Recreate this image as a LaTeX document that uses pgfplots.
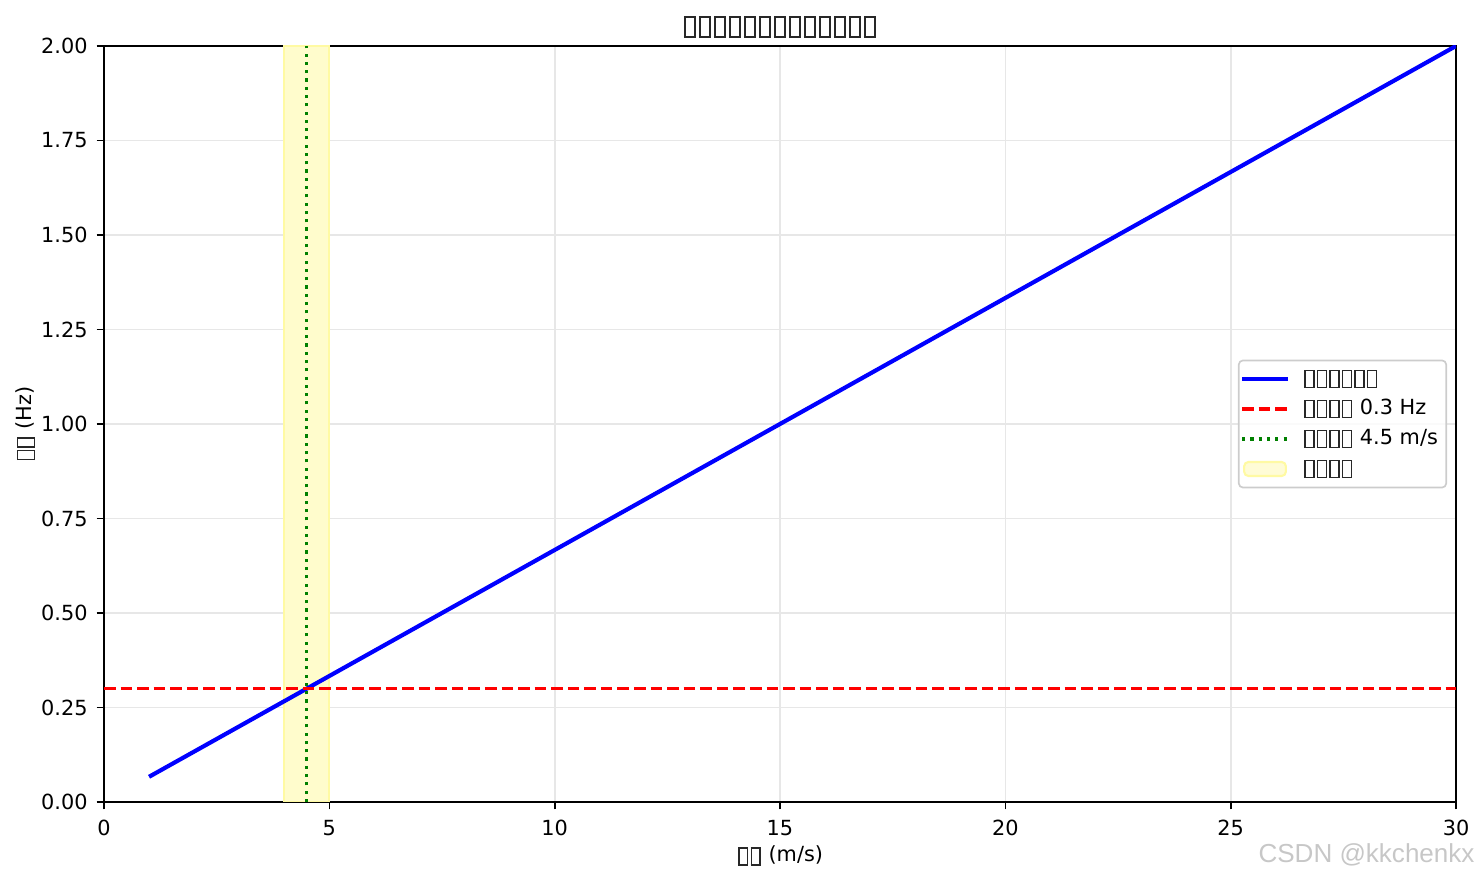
\documentclass[border=0pt]{standalone}
\usepackage{fontspec}
\setmainfont{DejaVu Sans}
\newfontfamily\wmfont{Liberation Sans}
\usepackage{pgfplots}
\pgfplotsset{compat=1.18}
\definecolor{mplgreen}{RGB}{0,128,0}
\definecolor{gridc}{RGB}{231,231,231}
\definecolor{legedge}{RGB}{204,204,204}
\definecolor{tofuc}{RGB}{40,40,40}
\newcommand\tofu{\kern0.05em\raisebox{-0.1em}{\color{tofuc}\fboxsep=0pt\fboxrule=0.075em\fbox{\rule{0pt}{0.73em}\rule{0.35em}{0pt}}}\kern0.05em}
\pgfplotsset{
  linelegend/.style={legend image code/.code={%
    \begin{pgfinterruptboundingbox}\draw[##1] (-2.4pt,0pt) -- (19.6pt,0pt);\end{pgfinterruptboundingbox}%
    \path[draw=none, fill=none] (0pt,-1pt) rectangle (19.6pt,1pt);}},
  arealegend/.style={legend image code/.code={%
    \begin{pgfinterruptboundingbox}\draw[##1] (-1.4pt,-3.35pt) rectangle (18.6pt,3.35pt);\end{pgfinterruptboundingbox}%
    \path[draw=none, fill=none] (0pt,-1pt) rectangle (19.6pt,1pt);}},
}
\begin{document}
\begin{tikzpicture}
\begin{axis}[
  name=ax, scale only axis, width=648.96pt, height=362.88pt,
  xmin=0, xmax=30, ymin=0, ymax=2,
  xtick={0,5,...,30}, ytick={0,0.25,...,2},
  yticklabel style={/pgf/number format/fixed, /pgf/number format/fixed zerofill, /pgf/number format/precision=2},
  /pgf/number format/assume math mode=true,
  tick align=outside, major tick length=3.5pt,
  xtick pos=lower, ytick pos=left,
  tick style={black, line width=0.8pt},
  axis line style={line width=0.8pt},
  grid=major, major grid style={color=gridc, line width=0.8pt},
  ticklabel style={font=\fontsize{10}{12}\selectfont},
  xticklabel style={inner sep=0pt, anchor=north, yshift=-5.1pt},
  yticklabel style={inner sep=0pt, anchor=east, xshift=-4.2pt},
  title={\tofu\tofu\tofu\tofu\tofu\tofu\tofu\tofu\tofu\tofu\tofu\tofu\tofu},
  title style={font=\fontsize{12}{14}\selectfont, at={(axis description cs:0.5,1)}, anchor=base, yshift=-0.2pt, inner sep=0pt},
  xlabel={\tofu\tofu{} (m/s)},
  ylabel={\tofu\tofu{} (Hz)},
  xlabel style={font=\fontsize{10}{12}\selectfont, at={([yshift=-28.8pt]axis description cs:0.5,0)}, anchor=base, inner sep=0pt},
  ylabel style={font=\fontsize{10}{12}\selectfont, at={([xshift=-34.8pt]axis description cs:0,0.5)}, anchor=base, inner sep=0pt},
  legend style={at={(axis description cs:0.9934,0.5)}, anchor=east,
    draw=legedge, line width=0.8pt, rounded corners=2pt, fill=white, fill opacity=0.8, text opacity=1,
    font=\fontsize{10}{12}\selectfont, inner sep=4pt,
    nodes={inner sep=0pt, text height=7.6pt, text depth=2.2pt},
    row sep=4.6pt, column sep=7.4pt},
  legend cell align=left,
]
\addplot[draw=yellow!36, fill=yellow!20, line width=1pt, forget plot] coordinates {(4,0) (4,2) (5,2) (5,0)} -- cycle;
\addplot[blue, line width=2pt, linelegend] coordinates {(1,0.06667) (30,2)};
\addlegendentry{\tofu\tofu\tofu\tofu\tofu\tofu}
\addplot[red, line width=1.5pt, dash pattern=on 5.55pt off 2.4pt, linelegend] coordinates {(0,0.3) (30,0.3)};
\addlegendentry{\tofu\tofu\tofu\tofu{} 0.3 Hz}
\addplot[mplgreen, line width=1.5pt, dash pattern=on 1.5pt off 2.475pt, linelegend] coordinates {(4.5,0) (4.5,2)};
\addlegendentry{\tofu\tofu\tofu\tofu{} 4.5 m/s}
\addlegendimage{draw=yellow!36, fill=yellow!20, line width=1pt, arealegend}
\addlegendentry{\tofu\tofu\tofu\tofu}
\end{axis}
\node[anchor=base east, font=\wmfont\fontsize{12.5}{15}\selectfont, text=black!22, inner sep=0pt] at ([xshift=9.1pt,yshift=-29.1pt]ax.south east) {CSDN @kkchenkx};
\pgfresetboundingbox
\path[use as bounding box] ([shift={(-49.92pt,-37.92pt)}]ax.south west) rectangle ([shift={(13.44pt,22.08pt)}]ax.north east);
\end{tikzpicture}
\end{document}
